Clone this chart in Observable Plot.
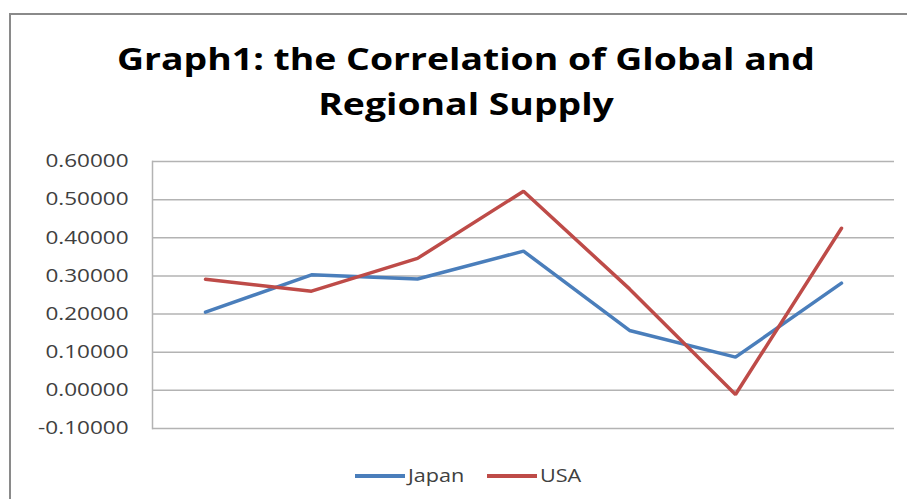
<!DOCTYPE html>
<html><head><meta charset="utf-8">
<script src="https://cdn.jsdelivr.net/npm/d3@7"></script>
<script src="https://cdn.jsdelivr.net/npm/@observablehq/plot@0.6"></script>
<style>
html,body{margin:0;padding:0;background:#fff;}
#wrap{position:relative;width:907px;height:499px;overflow:hidden;background:#fff;font-family:"Open Sans",sans-serif;}
#frame{position:absolute;left:9px;top:13px;width:1000px;height:600px;border:2px solid #8a8a8a;box-sizing:border-box;}
#title{position:absolute;left:0;top:36px;width:932px;text-align:center;font-family:"Open Sans",sans-serif;font-weight:700;font-size:31px;line-height:45px;color:#000;transform-origin:466px 0;}
#title span{white-space:nowrap;}
#chart{position:absolute;left:0;top:140px;}
#legend{position:absolute;top:450px;left:0;}
</style></head>
<body><div id="wrap"><div id="frame"></div>
<div id="title"><span id="t1">Graph1: the Correlation of Global and</span><br><span>Regional Supply</span></div>
<div id="chart"></div>
<div id="legend"></div>
</div>
<script>
const categories = [1, 2, 3, 4, 5, 6, 7];
const japan = [0.205, 0.303, 0.292, 0.365, 0.157, 0.087, 0.281];
const usa = [0.291, 0.260, 0.346, 0.522, 0.266, -0.011, 0.425];
const yTicks = [-0.1, 0, 0.1, 0.2, 0.3, 0.4, 0.5, 0.6];
const seriesNames = ["Japan", "USA"];
const seriesColors = ["#4a7ebb", "#be4b48"];

const rows = [];
categories.forEach((c, i) => {
  rows.push({cat: c, value: japan[i], series: "Japan"});
  rows.push({cat: c, value: usa[i], series: "USA"});
});

const fmt = d => d.toFixed(5);

const chart = Plot.plot({
  width: 907,
  height: 310,
  marginLeft: 152,
  marginRight: 13,
  marginTop: 21,
  marginBottom: 22,
  style: {fontFamily: "'Open Sans',sans-serif", fontSize: "18px", color: "#404040", background: "transparent"},
  x: {type: "point", domain: categories, padding: 0.5, axis: null},
  y: {domain: [-0.1, 0.6], axis: null},
  color: {domain: seriesNames, range: seriesColors},
  marks: [
    Plot.gridY(yTicks, {stroke: "#b3b3b3", strokeOpacity: 1, strokeWidth: 1.5}),
    Plot.frame({anchor: "left", stroke: "#b3b3b3", strokeWidth: 1.5}),
    Plot.axisY(yTicks, {tickFormat: fmt, tickSize: 0, tickPadding: 24, fill: "#404040", fontSize: 18, label: null}),
    Plot.line(rows, {x: "cat", y: "value", z: "series", stroke: "series", strokeWidth: 3.5, strokeLinejoin: "miter"})
  ]
});
document.getElementById("chart").appendChild(chart);

// the reference image is stretched horizontally: widen text accordingly
const STRETCH = 1.25;
chart.querySelectorAll("g[aria-label='y-axis tick label'] text").forEach(t => {
  const w = t.getComputedTextLength();
  t.setAttribute("textLength", (w * STRETCH).toFixed(1));
  t.setAttribute("lengthAdjust", "spacingAndGlyphs");
});

const title = document.getElementById("title");
const w1 = document.getElementById("t1").getBoundingClientRect().width;
title.style.transform = `scaleX(${698 / w1})`;

// legend
const ns = "http://www.w3.org/2000/svg";
const lsvg = document.createElementNS(ns, "svg");
lsvg.setAttribute("width", 907);
lsvg.setAttribute("height", 45);
const swX = [355, 487];
seriesNames.forEach((n, i) => {
  const ln = document.createElementNS(ns, "line");
  ln.setAttribute("x1", swX[i]); ln.setAttribute("x2", swX[i] + 50);
  ln.setAttribute("y1", 26); ln.setAttribute("y2", 26);
  ln.setAttribute("stroke", seriesColors[i]); ln.setAttribute("stroke-width", 4);
  lsvg.appendChild(ln);
  const tx = document.createElementNS(ns, "text");
  tx.setAttribute("x", swX[i] + 53); tx.setAttribute("y", 32);
  tx.setAttribute("font-family", "'Open Sans',sans-serif");
  tx.setAttribute("font-size", 18);
  tx.setAttribute("fill", "#404040");
  tx.textContent = n;
  lsvg.appendChild(tx);
});
document.getElementById("legend").appendChild(lsvg);
lsvg.querySelectorAll("text").forEach(t => {
  const w = t.getComputedTextLength();
  t.setAttribute("textLength", (w * 1.2).toFixed(1));
  t.setAttribute("lengthAdjust", "spacingAndGlyphs");
});
</script>
</body></html>
